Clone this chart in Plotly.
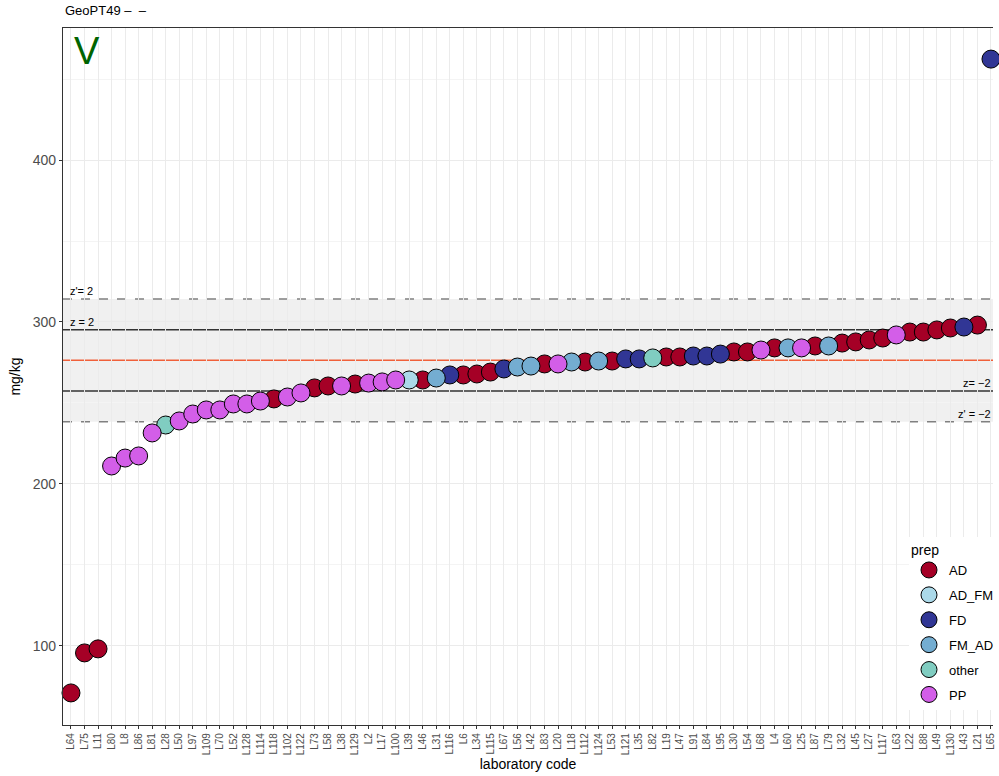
import plotly.graph_objects as go

labs = ["L64","L75","L11","L80","L8","L86","L81","L28","L50","L97","L109","L70","L52","L128","L114","L118","L102",
        "L122","L73","L58","L38","L129","L2","L17","L100","L39","L46","L31","L116","L6","L34","L115","L67","L56",
        "L42","L83","L20","L18","L112","L124","L53","L121","L35","L82","L19","L47","L91","L84","L95","L30","L54","L68",
        "L4","L60","L25","L87","L79","L32","L45","L27","L117","L63","L22","L88","L49","L130","L43","L21","L65"]
vals = [71.0,95.7,98.2,211.1,216.0,217.3,231.5,236.4,238.9,243.2,245.7,245.7,249.4,249.4,251.2,252.5,253.7,
        256.2,259.3,260.5,260.5,261.7,262.3,263.0,264.2,264.2,264.2,265.4,267.3,267.3,267.9,269.1,271.0,272.2,
        272.8,274.1,274.1,275.3,275.3,275.9,275.9,277.2,277.2,277.8,278.4,278.4,279.0,279.0,280.2,281.5,281.5,282.7,
        284.0,284.0,284.0,285.2,285.2,287.0,287.7,288.9,290.1,292.0,293.8,293.8,295.1,296.3,296.9,298.1,462.3]
prep = ["AD","AD","AD","PP","PP","PP","PP","other","PP","PP","PP","PP","PP","PP","PP","AD","PP",
        "PP","AD","AD","PP","AD","PP","PP","PP","AD_FM","AD","FM_AD","FD","AD","AD","AD","FD","FM_AD",
        "FM_AD","AD","PP","FM_AD","AD","FM_AD","AD","FD","FD","other","AD","AD","FD","FD","FD","AD","AD","PP",
        "AD","FM_AD","PP","AD","FM_AD","AD","AD","AD","AD","PP","AD","AD","AD","AD","FD","AD","FD"]
groups = ["AD","AD_FM","FD","FM_AD","other","PP"]
colors = {"AD":"#a50026","AD_FM":"#abd9e9","FD":"#313695","FM_AD":"#74add1","other":"#80cdc1","PP":"#d35ee8"}

center = 276.4
z_lo, z_hi = 257.4, 295.2
zp_lo, zp_hi = 238.4, 314.2

fig = go.Figure()
for g in groups:
    xs = [l for l, p in zip(labs, prep) if p == g]
    ys = [v for v, p in zip(vals, prep) if p == g]
    fig.add_trace(go.Scatter(x=xs, y=ys, mode="markers", name=g, legendgroup=g, cliponaxis=False,
                             marker=dict(size=18, color=colors[g], line=dict(color="black", width=1))))

shapes = [
    dict(type="rect", xref="paper", x0=0, x1=1, y0=zp_lo, y1=zp_hi, fillcolor="#f0f0f0", line_width=0, layer="below"),
    dict(type="line", xref="paper", x0=0, x1=1, y0=zp_hi, y1=zp_hi, line=dict(color="#808080", width=1.3, dash="dash"), layer="below"),
    dict(type="line", xref="paper", x0=0, x1=1, y0=zp_lo, y1=zp_lo, line=dict(color="#808080", width=1.3, dash="dash"), layer="below"),
    dict(type="line", xref="paper", x0=0, x1=1, y0=z_hi, y1=z_hi, line=dict(color="#333333", width=1.3), layer="below"),
    dict(type="line", xref="paper", x0=0, x1=1, y0=z_lo, y1=z_lo, line=dict(color="#333333", width=1.3), layer="below"),
    dict(type="line", xref="paper", x0=0, x1=1, y0=center, y1=center, line=dict(color="#f0603a", width=1.6), layer="below"),
]

ann = [
    dict(text="z'= 2", xref="paper", x=0.005, y=zp_hi, yanchor="bottom", xanchor="left", showarrow=False, font=dict(size=11, color="black")),
    dict(text="z = 2", xref="paper", x=0.005, y=z_hi, yanchor="bottom", xanchor="left", showarrow=False, font=dict(size=11, color="black")),
    dict(text="z= −2", xref="paper", x=1.0, y=z_lo, yanchor="bottom", xanchor="right", showarrow=False, font=dict(size=11, color="black")),
    dict(text="z' = −2", xref="paper", x=1.0, y=zp_lo, yanchor="bottom", xanchor="right", showarrow=False, font=dict(size=11, color="black")),
    dict(text="V", xref="paper", yref="paper", x=0.01, y=1.0, xanchor="left", yanchor="top", showarrow=False,
         font=dict(size=38, color="#006400")),
    dict(text="GeoPT49 –  –", xref="paper", yref="paper", x=0.0, y=1.0, yshift=8, xanchor="left", yanchor="bottom",
         showarrow=False, font=dict(size=13, color="black")),
]

fig.update_layout(
    width=999, height=776,
    margin=dict(l=63, r=0, t=28, b=51),
    paper_bgcolor="white", plot_bgcolor="white",
    font=dict(family="Liberation Sans, Arial, sans-serif", color="black"),
    shapes=shapes, annotations=ann,
    showlegend=True,
    legend=dict(x=0.91, y=0.27, xanchor="left", yanchor="top", bgcolor="white",
                title=dict(text="prep", font=dict(size=14)), font=dict(size=13),
                itemsizing="trace", tracegroupgap=5),
    xaxis=dict(type="category", categoryorder="array", categoryarray=labs,
               range=[-0.59, 68.15], tickangle=-90, tickfont=dict(size=10, color="#4d4d4d"),
               ticks="outside", ticklen=3, tickcolor="#333333",
               showgrid=True, gridcolor="#ebebeb", gridwidth=1.2,
               showline=True, linecolor="#333333", linewidth=1.2, mirror=True,
               title=dict(text="laboratory code", font=dict(size=14), standoff=4)),
    yaxis=dict(range=[51.2, 481.5], tickvals=[100, 200, 300, 400], tickfont=dict(size=14, color="#4d4d4d"),
               ticks="outside", ticklen=3, tickcolor="#333333",
               showgrid=True, gridcolor="#ebebeb", gridwidth=1.2, zeroline=False,
               minor=dict(tickvals=[150, 250, 350, 450], showgrid=True, gridcolor="#f4f4f4", ticks=""),
               showline=True, linecolor="#333333", linewidth=1.2,
               title=dict(text="mg/kg", font=dict(size=14), standoff=8)),
)

fig.write_html("out.html")
